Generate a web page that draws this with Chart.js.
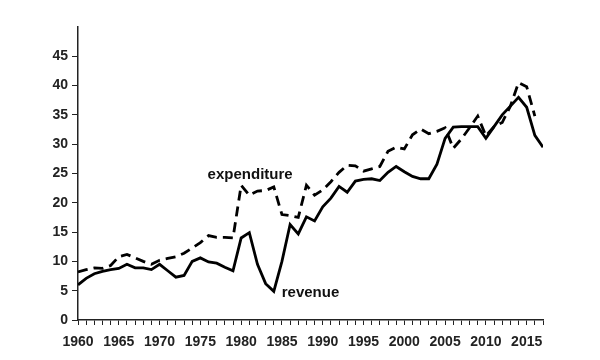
<!DOCTYPE html>
<html>
<head>
<meta charset="utf-8">
<script src="https://cdn.jsdelivr.net/npm/chart.js@4/dist/chart.umd.min.js"></script>
<style>
  html, body { margin: 0; padding: 0; background: #fff; }
  #wrap { width: 600px; height: 360px; }
</style>
</head>
<body>
<div id="wrap"><canvas id="chart" width="600" height="360"></canvas></div>
<script>
// --- Data ---
const years = [];
for (let y = 1960; y <= 2017; y++) years.push(y);

const revenue = [
  6.0, 7.1, 7.9, 8.3, 8.6, 8.8, 9.5, 8.9, 8.9, 8.6,
  9.5, 8.4, 7.3, 7.6, 10.0, 10.6, 9.9, 9.7, 9.0, 8.4,
  14.0, 14.9, 9.5, 6.2, 4.9, 10.0, 16.3, 14.7, 17.6, 16.9,
  19.3, 20.8, 22.8, 21.8, 23.7, 24.0, 24.1, 23.8, 25.2, 26.2,
  25.3, 24.5, 24.1, 24.1, 26.6, 31.0, 32.9, 33.0, 33.0, 33.0,
  31.0, 33.0, 35.0, 36.5, 38.0, 36.3, 31.5, 29.5
];

const expenditure = [
  8.2, 8.6, 8.9, 8.8, 9.3, 10.8, 11.2, 10.6, 10.0, 9.5,
  10.2, 10.5, 10.8, 11.4, 12.3, 13.2, 14.4, 14.1, 14.1, 14.0,
  23.0, 21.3, 22.0, 22.1, 22.7, 18.0, 17.8, 17.5, 23.0, 21.3,
  22.2, 23.6, 25.2, 26.4, 26.3, 25.4, 25.8, 26.2, 28.8, 29.5,
  29.2, 31.6, 32.6, 31.8, 32.2, 32.8, 29.3, 30.9, 32.8, 34.8,
  31.4, 33.0, 33.7, 36.5, 40.5, 39.8, 34.8, null
];

const yTicks = [0, 5, 10, 15, 20, 25, 30, 35, 40, 45];

// series labels drawn next to the lines, in data coordinates
const seriesLabels = [
  { text: 'expenditure', year: 1981.1, value: 24.8 },
  { text: 'revenue', year: 1988.5, value: 4.6 }
];

const FONT = '"Liberation Sans", Arial, sans-serif';

// --- Plugin: text labels on the plot ---
const lineLabels = {
  id: 'lineLabels',
  afterDatasetsDraw(chart) {
    const { ctx, scales } = chart;
    ctx.save();
    ctx.font = 'bold 15px ' + FONT;
    ctx.fillStyle = '#111';
    ctx.textAlign = 'center';
    ctx.textBaseline = 'middle';
    seriesLabels.forEach(l => {
      ctx.fillText(l.text, scales.x.getPixelForValue(l.year), scales.y.getPixelForValue(l.value));
    });
    ctx.restore();
  }
};

const toPoints = arr => arr.map((v, i) => ({ x: years[i], y: v }));

new Chart(document.getElementById('chart'), {
  type: 'line',
  data: {
    datasets: [
      {
        label: 'revenue',
        data: toPoints(revenue),
        borderColor: '#000',
        borderWidth: 2.8,
        pointRadius: 0,
        tension: 0,
        fill: false
      },
      {
        label: 'expenditure',
        data: toPoints(expenditure),
        borderColor: '#000',
        borderWidth: 2.8,
        borderDash: [10, 6],
        pointRadius: 0,
        tension: 0,
        fill: false,
        spanGaps: false
      }
    ]
  },
  options: {
    responsive: false,
    animation: false,
    layout: { padding: { top: 27, right: 57, left: 0, bottom: 0 } },
    plugins: { legend: { display: false }, tooltip: { enabled: false } },
    scales: {
      x: {
        type: 'linear',
        min: 1960,
        max: 2017,
        afterFit: s => { s.height = 40; },
        afterBuildTicks: s => { s.ticks = years.map(v => ({ value: v })); },
        border: { color: '#222', width: 1.5 },
        grid: { drawOnChartArea: false, tickLength: 5, color: '#222', lineWidth: 1 },
        ticks: {
          autoSkip: false,
          maxRotation: 0,
          padding: 9,
          color: '#222',
          font: { family: FONT, size: 14, weight: 'bold' },
          callback: v => (v % 5 === 0 ? String(v) : '')
        }
      },
      y: {
        min: 0,
        max: 50,
        afterFit: s => { s.width = 78; },
        afterBuildTicks: s => { s.ticks = yTicks.map(v => ({ value: v })); },
        border: { color: '#222', width: 1.5 },
        grid: { drawOnChartArea: false, tickLength: 6, color: '#222', lineWidth: 1 },
        ticks: {
          padding: 4,
          color: '#222',
          font: { family: FONT, size: 14, weight: 'bold' }
        }
      }
    }
  },
  plugins: [lineLabels]
});
</script>
</body>
</html>
